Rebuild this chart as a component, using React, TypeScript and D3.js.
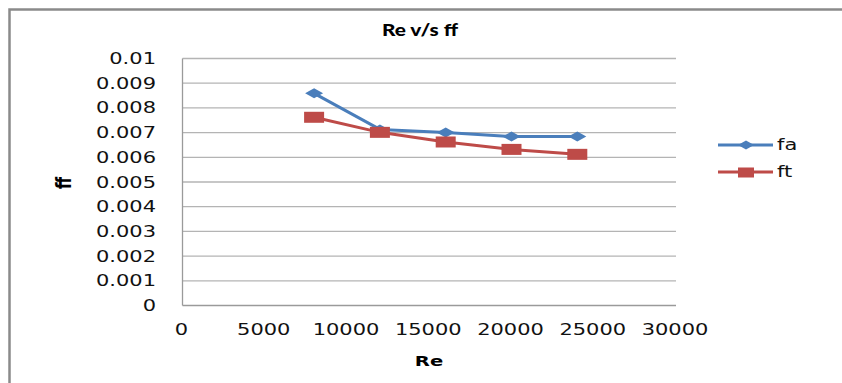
import React from "react";
import * as d3 from "d3";

const reValues = [8000, 12000, 16000, 20000, 24000];
const faValues = [0.00859, 0.00713, 0.007, 0.00684, 0.00684];
const ftValues = [0.00762, 0.00701, 0.00662, 0.00632, 0.00612];
const xTicks = [0, 5000, 10000, 15000, 20000, 25000, 30000];
const xTickLabels = ["0", "5000", "10000", "15000", "20000", "25000", "30000"];
const yTicks = [0, 0.001, 0.002, 0.003, 0.004, 0.005, 0.006, 0.007, 0.008, 0.009, 0.01];
const yTickLabels = ["0", "0.001", "0.002", "0.003", "0.004", "0.005", "0.006", "0.007", "0.008", "0.009", "0.01"];
const seriesNames = ["fa", "ft"];

const W = 842;
const H = 383;
const SX = 1.4;
const BLUE = "#4a7ebb";
const RED = "#be4b48";

const x = d3.scaleLinear().domain([0, 30000]).range([182.5, 676]);
const y = d3.scaleLinear().domain([0, 0.01]).range([305.5, 58.5]);

const line = d3
  .line<[number, number]>()
  .x((d) => x(d[0]))
  .y((d) => y(d[1]));

function Diamond({ cx, cy, w = 18, h = 10 }: { cx: number; cy: number; w?: number; h?: number }) {
  const p = d3.path();
  p.moveTo(cx - w / 2, cy);
  p.lineTo(cx, cy - h / 2);
  p.lineTo(cx + w / 2, cy);
  p.lineTo(cx, cy + h / 2);
  p.closePath();
  return <path d={p.toString()} fill={BLUE} />;
}

function Square({ cx, cy, w = 20, h = 11 }: { cx: number; cy: number; w?: number; h?: number }) {
  return <rect x={cx - w / 2} y={cy - h / 2} width={w} height={h} fill={RED} />;
}

function SText({
  x0,
  y0,
  anchor,
  children,
  size = 15,
  weight = "normal",
  family = "DejaVu Sans",
  sx = SX,
  rotate = 0,
  fill = "#111",
}: any) {
  return (
    <text
      transform={`translate(${x0},${y0}) scale(${sx},1)${rotate ? ` rotate(${rotate})` : ""}`}
      textAnchor={anchor}
      fontFamily={family}
      fontSize={size}
      fontWeight={weight}
      fill={fill}
    >
      {children}
    </text>
  );
}

export default function App() {
  const faPts = reValues.map((r, i) => [r, faValues[i]] as [number, number]);
  const ftPts = reValues.map((r, i) => [r, ftValues[i]] as [number, number]);
  const [x0, x1] = x.range();
  return (
    <svg width={W} height={H} style={{ position: "absolute", left: 0, top: 0, background: "#fff" }}>
      <rect x={0} y={0} width={W} height={H} fill="#fff" />
      <rect x={9.5} y={9.5} width={W + 20} height={H + 20} fill="none" stroke="#8a8a8a" strokeWidth={2.5} />
      {yTicks.map((t, i) =>
        i === 0 ? null : (
          <line key={"g" + i} x1={x0} x2={x1} y1={y(t)} y2={y(t)} stroke="#b4b4b4" strokeWidth={1.3} />
        )
      )}
      <line x1={x0} x2={x0} y1={y(0.01)} y2={y(0)} stroke="#9a9a9a" strokeWidth={1.3} />
      <line x1={x0} x2={x1} y1={y(0)} y2={y(0)} stroke="#9a9a9a" strokeWidth={1.3} />
      {yTicks.map((t, i) => (
        <SText key={"yl" + i} x0={156} y0={y(t) + 5.5} anchor="end">
          {yTickLabels[i]}
        </SText>
      ))}
      {xTicks.map((t, i) => (
        <SText key={"xl" + i} x0={x(t) - 1} y0={335} anchor="middle">
          {xTickLabels[i]}
        </SText>
      ))}
      <path d={line(faPts) || ""} fill="none" stroke={BLUE} strokeWidth={3} strokeLinejoin="round" />
      <path d={line(ftPts) || ""} fill="none" stroke={RED} strokeWidth={3} strokeLinejoin="round" />
      {faPts.map((d, i) => (
        <Diamond key={"fa" + i} cx={x(d[0])} cy={y(d[1])} />
      ))}
      {ftPts.map((d, i) => (
        <Square key={"ft" + i} cx={x(d[0])} cy={y(d[1])} />
      ))}
      <SText x0={420} y0={36} anchor="middle" size={16} weight="900" family="Lato" sx={1.3} fill="#000">
        Re v/s ff
      </SText>
      <SText x0={429} y0={366} anchor="middle" size={14} weight="bold" fill="#000">
        Re
      </SText>
      <SText x0={71} y0={183} anchor="middle" size={15} weight="bold" rotate={-90} fill="#000">
        ff
      </SText>
      <line x1={718} x2={773} y1={145} y2={145} stroke={BLUE} strokeWidth={3} />
      <Diamond cx={746} cy={145} w={16} h={9} />
      <SText x0={777} y0={150} anchor="start">
        {seriesNames[0]}
      </SText>
      <line x1={718} x2={773} y1={172} y2={172} stroke={RED} strokeWidth={3} />
      <Square cx={746} cy={172.5} w={16} h={10} />
      <SText x0={777} y0={177} anchor="start">
        {seriesNames[1]}
      </SText>
    </svg>
  );
}
